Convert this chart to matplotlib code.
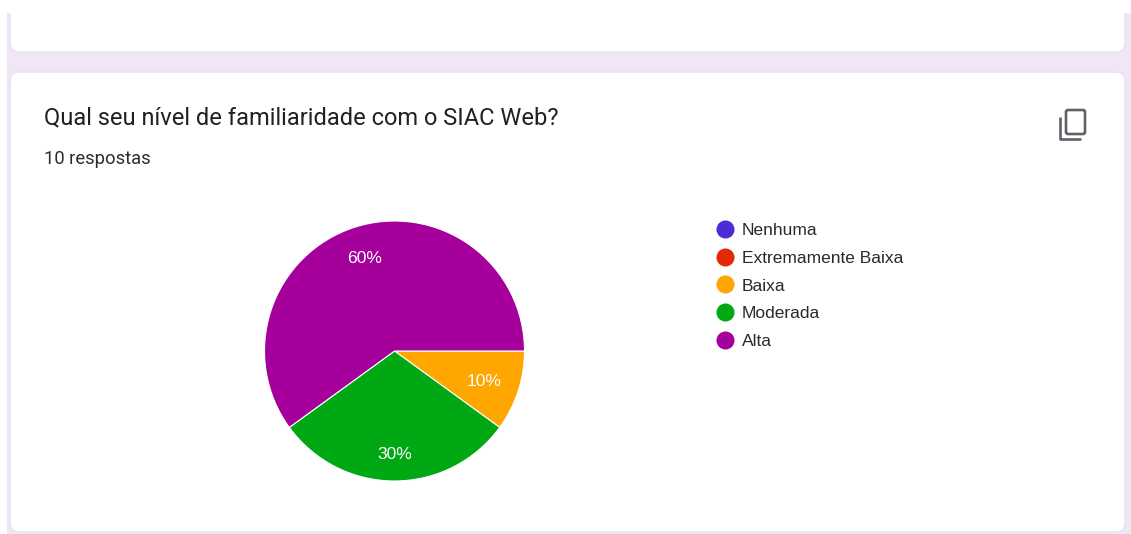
import matplotlib
matplotlib.use('Agg')
import matplotlib.pyplot as plt
from matplotlib.lines import Line2D
from matplotlib.patches import FancyBboxPatch, Rectangle

categories = ['Nenhuma', 'Extremamente Baixa', 'Baixa', 'Moderada', 'Alta']
counts = [0, 0, 1, 3, 6]
colors = ['#4f2bd6', '#e32a06', '#ffa600', '#00a814', '#a5009b']
question = 'Qual seu nível de familiaridade com o SIAC Web?'
responses = '10 respostas'

W, H = 1131, 534
LAVENDER = '#f0e6f7'
BORDER = '#e6e3ea'
DARK = '#202124'

fig = plt.figure(figsize=(W / 100, H / 100), dpi=100, facecolor='white')

# Page layer in pixel coordinates, y going down
bg = fig.add_axes([0, 0, 1, 1])
bg.set_xlim(0, W)
bg.set_ylim(H, 0)
bg.axis('off')
bg.add_patch(Rectangle((7, 13), W - 7, H - 13, fc=LAVENDER, ec='none'))


def card(y0, y1):
    bg.add_patch(FancyBboxPatch((10 + 8, y0 + 8), 1115 - 16, y1 - y0 - 16,
                                boxstyle='round,pad=8,rounding_size=9',
                                fc='white', ec=BORDER, lw=1))


card(-30, 52)
card(72, 532)
# Top of the upper card runs off the page
bg.add_patch(Rectangle((7, 0), W - 7, 13, fc='white', ec='none'))

bg.text(44, 118, question, family='Roboto', fontsize=16.97, color=DARK, va='center')
bg.text(44, 159.5, responses, family='Roboto', fontsize=13.2, color='#2b2c30', va='center')

# Copy icon
icon = '#5f6368'
bg.add_patch(FancyBboxPatch((1067, 111), 17, 22, boxstyle='round,pad=1,rounding_size=2',
                            fc='none', ec=icon, lw=1.9))
bg.plot([1060, 1060, 1081], [117, 139, 139], color=icon, lw=1.9, solid_capstyle='butt',
        solid_joinstyle='round')

# Pie, radius 130 px around (394.5, 351)
cx, cy, r = 394.5, 351, 130
ax = fig.add_axes([(cx - r) / W, 1 - (cy + r) / H, 2 * r / W, 2 * r / H])
wedges, _, autotexts = ax.pie(
    counts, colors=colors, startangle=0, counterclock=False, radius=1,
    autopct=lambda p: f'{p:.0f}%' if p > 0 else '', pctdistance=0.75,
    wedgeprops={'edgecolor': 'white', 'linewidth': 0.8},
    textprops={'family': 'Liberation Sans', 'fontsize': 12.6, 'color': 'white'})
ax.set_xlim(-1, 1)
ax.set_ylim(-1, 1)

# Nudge the percentage labels along their wedge
label_shift = [1, 1, 0.97, 1.06, 1]
for t, k in zip(autotexts, label_shift):
    x, y = t.get_position()
    t.set_position((x * k, y * k - (0.012 if k == 0.97 else 0)))

handles = [Line2D([], [], ls='none', marker='o', ms=13, mfc=c, mec='none') for c in colors]
fig.legend(handles, categories, loc='upper left', bbox_to_anchor=(708 / W, 1 - 223 / H),
           frameon=False, labelspacing=0.722, handlelength=2.0, handletextpad=-0.05, borderpad=0, borderaxespad=0,
           prop={'family': 'Liberation Sans', 'size': 12.5}, labelcolor='#2a2a2e')

fig.savefig('out.png', dpi=100, facecolor='white')
